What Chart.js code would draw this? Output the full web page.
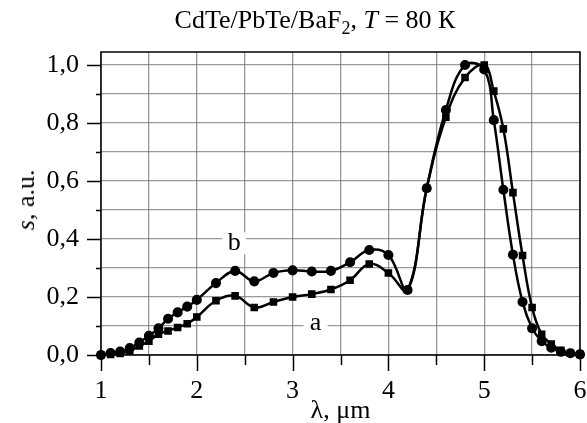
<!DOCTYPE html>
<html>
<head>
<meta charset="utf-8">
<script src="https://cdn.jsdelivr.net/npm/chart.js@4.4.1/dist/chart.umd.min.js"></script>
<style>
  html, body { margin: 0; padding: 0; background: #fff; }
  #wrap { position: relative; width: 587px; height: 423px; }
  #title {
    position: absolute; left: 0; top: 5px; width: 630px;
    text-align: center; font: 26px "Liberation Serif", serif; color: #000;
    white-space: nowrap; line-height: 30px;
  }
  #ytitle {
    position: absolute; left: 26px; top: 200px;
    transform: translate(-50%, -50%) rotate(-90deg);
    font: 26px "Liberation Serif", serif; color: #000; white-space: nowrap;
  }
</style>
</head>
<body>
<div id="wrap">
  <canvas id="spectrum" width="587" height="423"></canvas>
  <div id="title">CdTe/PbTe/BaF<sub style="font-size:18px;line-height:0">2</sub>, <i>T</i> = 80 К</div>
  <div id="ytitle"><i>s</i>, a.u.</div>
</div>
<script>
// wavelength, µm (same points for both curves)
const lambda = [1.0, 1.1, 1.2, 1.3, 1.4, 1.5, 1.6, 1.7, 1.8, 1.9, 2.0, 2.2, 2.4, 2.6, 2.8, 3.0,
  3.2, 3.4, 3.6, 3.8, 4.0, 4.2, 4.4, 4.6, 4.8, 5.0, 5.1, 5.2, 5.3, 5.4, 5.5, 5.6, 5.7, 5.8, 5.9, 6.0];

// curve a (squares)
const sA = [0.0, 0.002, 0.005, 0.014, 0.031, 0.048, 0.072, 0.083, 0.095, 0.108, 0.131, 0.187, 0.204,
  0.164, 0.183, 0.200, 0.210, 0.226, 0.258, 0.314, 0.283, 0.224, 0.575, 0.820, 0.957, 1.000, 0.910,
  0.780, 0.560, 0.343, 0.164, 0.071, 0.038, 0.016, 0.006, 0.002];

// curve b (circles)
const sB = [0.0, 0.007, 0.012, 0.024, 0.043, 0.066, 0.092, 0.125, 0.147, 0.167, 0.190, 0.248, 0.290,
  0.254, 0.283, 0.292, 0.288, 0.290, 0.320, 0.362, 0.345, 0.224, 0.575, 0.845, 1.000, 0.985, 0.810,
  0.570, 0.346, 0.183, 0.092, 0.048, 0.025, 0.011, 0.006, 0.002];

// curve labels, placed in data units
const curveNames = ['a', 'b'];
const curveLabelX = [3.24, 2.39];
const curveLabelY = [0.11, 0.385];

const serif = '"Liberation Serif", "Times New Roman", serif';

const toPoints = (ys) => ys.map((v, i) => ({ x: lambda[i], y: v }));

// frame, outside tick marks and the a/b labels
const framePlugin = {
  id: 'frame',
  beforeDatasetsDraw(chart) {
    const { ctx, scales: { x, y } } = chart;
    ctx.save();
    ctx.font = '26px ' + serif;
    ctx.textAlign = 'center';
    ctx.textBaseline = 'middle';
    curveNames.forEach((name, i) => {
      const px = x.getPixelForValue(curveLabelX[i]);
      const py = y.getPixelForValue(curveLabelY[i]);
      ctx.fillStyle = '#fff';
      ctx.fillRect(px - 12, py - 11, 24, 22);
      ctx.fillStyle = '#000';
      ctx.fillText(name, px, py);
    });
    ctx.restore();
  },
  afterDraw(chart) {
    const { ctx, chartArea: a, scales: { x, y } } = chart;
    ctx.save();
    ctx.strokeStyle = '#000';
    ctx.lineWidth = 1.5;
    ctx.strokeRect(a.left, a.top, a.right - a.left, a.bottom - a.top);
    y.ticks.forEach(t => {
      const py = Math.round(y.getPixelForValue(t.value)) + 0.5;
      const major = Math.round(t.value * 10) % 2 === 0;
      ctx.beginPath();
      ctx.moveTo(a.left - (major ? 14 : 5), py);
      ctx.lineTo(a.left, py);
      ctx.stroke();
    });
    x.ticks.forEach(t => {
      const px = Math.round(x.getPixelForValue(t.value)) + 0.5;
      const major = Math.abs(t.value - Math.round(t.value)) < 1e-6;
      ctx.beginPath();
      ctx.moveTo(px, a.bottom);
      ctx.lineTo(px, a.bottom + (major ? 16 : 10));
      ctx.stroke();
    });
    ctx.restore();
  }
};

new Chart(document.getElementById('spectrum').getContext('2d'), {
  type: 'line',
  data: {
    datasets: [
      {
        label: 'a',
        data: toPoints(sA),
        borderColor: '#000',
        backgroundColor: '#000',
        borderWidth: 2.5,
        pointStyle: 'rect',
        pointRadius: 3.6,
        tension: 0.4,
        clip: 5
      },
      {
        label: 'b',
        data: toPoints(sB),
        borderColor: '#000',
        backgroundColor: '#000',
        borderWidth: 2.5,
        pointStyle: 'circle',
        pointRadius: 3.8,
        tension: 0.4,
        clip: 5
      }
    ]
  },
  options: {
    responsive: false,
    animation: false,
    layout: { padding: { left: 0, top: 52, right: 7, bottom: 0 } },
    plugins: {
      legend: { display: false },
      tooltip: { enabled: false }
    },
    scales: {
      x: {
        type: 'linear',
        min: 1,
        max: 6,
        afterFit: (scale) => {
          scale.height = 68;
          scale.paddingLeft = 0;
          scale.paddingRight = 0;
        },
        grid: { color: 'rgba(110,110,110,0.7)', lineWidth: 1.3, drawTicks: false },
        border: { display: false },
        ticks: {
          stepSize: 0.5,
          padding: 21,
          maxRotation: 0,
          autoSkip: false,
          color: '#000',
          font: { family: serif, size: 26 },
          callback: (v) => Number.isInteger(v) ? String(v) : ''
        },
        title: {
          display: true,
          text: 'λ, μm',
          color: '#000',
          font: { family: serif, size: 26 },
          padding: { top: 0, bottom: -4 }
        }
      },
      y: {
        min: 0,
        max: 1.045,
        afterFit: (scale) => { scale.width = 101; },
        grid: { color: 'rgba(110,110,110,0.7)', lineWidth: 1.3, drawTicks: false },
        border: { display: false },
        ticks: {
          stepSize: 0.1,
          includeBounds: false,
          padding: 22,
          autoSkip: false,
          color: '#000',
          font: { family: serif, size: 26 },
          callback: (v) => Math.round(v * 10) % 2 === 0 ? v.toFixed(1).replace('.', ',') : ''
        }
      }
    }
  },
  plugins: [framePlugin]
});
</script>
</body>
</html>
